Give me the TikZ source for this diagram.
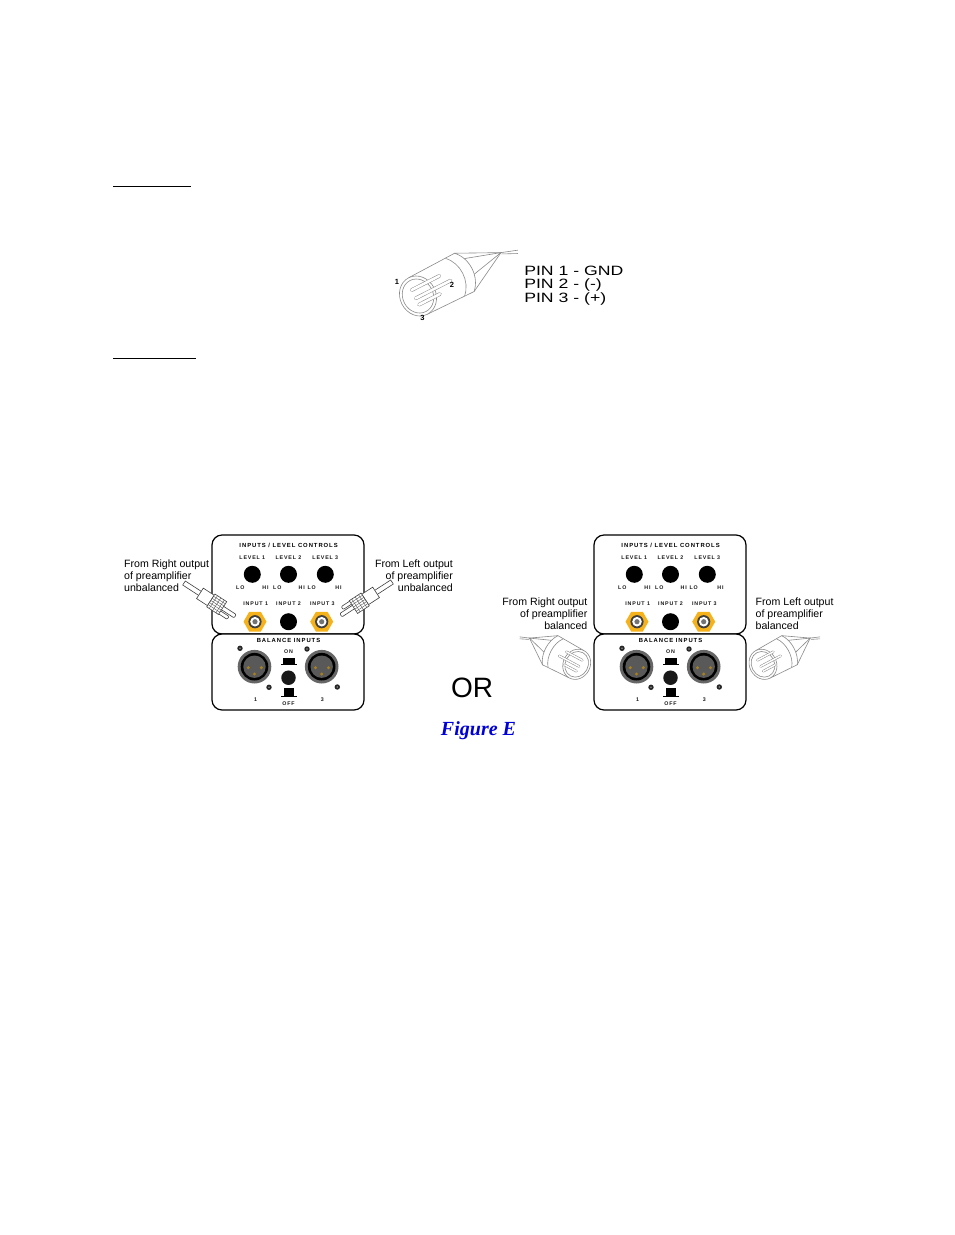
\documentclass[tikz,border=0pt]{standalone}
\usepackage{fontspec}
\setmainfont{Liberation Sans}
\newfontfamily\panelfont[LetterSpace=16]{Liberation Sans}
\newfontfamily\figfont{Liberation Serif}
\usetikzlibrary{shapes.geometric}
\definecolor{goldrca}{HTML}{F6B21B}
\definecolor{pingold}{HTML}{A8801E}
\definecolor{plugline}{HTML}{8A8A8A}
\tikzset{
  tiny label/.style={font=\panelfont\bfseries\fontsize{5.3}{6}\selectfont,inner sep=0pt,text=black!90},
  title label/.style={font=\panelfont\bfseries\fontsize{5.9}{6}\selectfont,inner sep=0pt,text=black},
  knob/.style={circle,fill=black,minimum size=17pt,inner sep=0pt},
  hexnut/.style={regular polygon,regular polygon sides=6,fill=goldrca,minimum size=23pt,inner sep=0pt},
  caption/.style={font=\fontsize{10.6}{12}\selectfont,inner sep=0pt,text=black},
  pinlist/.style={font=\fontsize{13.5}{14}\selectfont,inner sep=0pt,anchor=base west,xscale=1.31,transform shape},
  plug/.style={draw=plugline,line width=.6pt},
  rcaline/.style={draw=black!75,line width=.6pt,fill=white},
}
% x, y, rotation, yflip, L, R, face rx
\newcommand{\xlrplug}[7]{%
  \begin{scope}[shift={(#1,#2)},rotate=#3,yscale=#4]
    \draw[plug] (0,-#6) -- (#5,-#6-1) .. controls (#5*1.22,-#6*.5) and (#5*1.22,#6*.5) .. (#5,#6+1) -- (0,#6);
    \draw[plug] (#5*.8,-#6-.5) .. controls (#5*1.02,-#6*.5) and (#5*1.02,#6*.5) .. (#5*.8,#6+.5);
    \draw[plug] (#5,-#6-1) -- (#5*1.8,-1) -- (#5,#6+1);
    \draw[plug] (#5*1.12,-#6*.6) -- (#5*1.8,-1) -- (#5*1.15,#6*.3);
    \draw[plug] (#5*1.8,-1) -- (#5*2.11,#5*.086);
    \draw[plug] (#5*1.8,.5) -- (#5*2.08,#5*.143);
    \draw[plug,fill=white] (0,0) ellipse[x radius=#7,y radius=#6];
    \draw[plug] (0,0) ellipse[x radius=#7*.85,y radius=#6*.85];
    \foreach \py/\pl in {-8/.6,1/.75,8/.45}{
      \draw[plugline,line width=1+2.6*#5/51,line cap=round] (-3,\py*#6/20) -- (-3+#5*\pl,\py*#6/20);
      \draw[white,line width=2.6*#5/51,line cap=round] (-3,\py*#6/20) -- (-3+#5*\pl,\py*#6/20);
    }
  \end{scope}}
% x, y, rotation
\newcommand{\rcaplug}[3]{%
  \begin{scope}[shift={(#1,#2)},rotate=#3]
    \draw[rcaline] (0,-2.4) rectangle (20,2.4);
    \draw[rcaline,rounded corners=1pt] (46,-2) -- (61,-2) -- (61,2) -- (46,2);
    \draw[rcaline,rounded corners=1pt] (46,3.5) -- (56,3.5) -- (56,7) -- (46,7);
    \draw[rcaline] (19,-6.2) rectangle (32,6.2);
    \draw[rcaline] (32,-7.6) rectangle (46,7.6);
    \foreach \q in {-5,-2.5,0,2.5,5}{\draw[black!65,line width=.4pt] (32,\q) -- (46,\q);}
    \foreach \q in {35,39,43}{\draw[black!65,line width=.4pt] (\q,-7.6) -- (\q,7.6);}
  \end{scope}}
% x, name
\newcommand{\controlpanel}[2]{%
  \begin{scope}[shift={(#1,0)}]
    \node[draw=black,line width=1.2pt,rounded corners=10pt,fill=white,minimum width=152pt,minimum height=99pt,inner sep=0pt] (#2top) at (288,584.5) {};
    \node[draw=black,line width=1.2pt,rounded corners=10pt,fill=white,minimum width=152pt,minimum height=76pt,inner sep=0pt] (#2bot) at (288,672) {};
    \node[title label] (#2title) at (288.6,545.5) {INPUTS / LEVEL CONTROLS};
    \foreach \n/\kx/\lox/\hix in {1/252.3/240.3/265.5,2/288.5/277.3/301.7,3/325.3/311.7/338.5}{
      \node[tiny label] (#2lev\n) at (\kx,557.7) {LEVEL \n};
      \node[knob] (#2knob\n) at (\kx,574.3) {};
      \node[tiny label] (#2lo\n) at (\lox,587.5) {LO};
      \node[tiny label] (#2hi\n) at (\hix,587.5) {HI};
    }
    \node[tiny label] (#2in1) at (255.7,603.4) {INPUT 1};
    \node[tiny label] (#2in2) at (288.5,603.4) {INPUT 2};
    \node[tiny label] (#2in3) at (322.3,603.4) {INPUT 3};
    \foreach \n/\hx in {1/255,3/321.7}{
      \node[hexnut] (#2hex\n) at (\hx,621.7) {};
      \fill[black!75] (\hx,621.7) circle[radius=6.6];
      \fill[white] (\hx,621.7) circle[radius=4.8];
      \fill[black!55] (\hx,621.7) circle[radius=2.6];
    }
    \node[knob] (#2knob4) at (288.5,621.7) {};
    \node[title label] (#2bal) at (288.5,640) {BALANCE INPUTS};
    \foreach \n/\sx in {1/254.5,2/321.7}{
      \fill[black!60] (\sx,666.7) circle[radius=16.8];
      \fill[black] (\sx,666.7) circle[radius=13.8];
      \fill[black!65] (\sx,666.7) circle[radius=11.2];
      \foreach \ox/\oy in {-6.2/1,6.8/1,0/7.3}{
        \fill[pingold] (\sx+\ox,666.7+\oy) circle[radius=1.7];
      }
    }
    \foreach \cx/\cy in {240/648.3,269/687.3,307/649,337.3/687}{
      \fill[black!85] (\cx,\cy) circle[radius=2.7];
      \fill[black!45] (\cx,\cy) circle[radius=.9];
    }
    \node[circle,fill=black!90,minimum size=14.5pt,inner sep=0pt] (#2sw) at (288.5,677.7) {};
    \node[tiny label] (#2on) at (288.5,651.7) {ON};
    \fill[black] (283.3,658.3) rectangle (295,663.5);
    \draw[black,line width=.9pt] (281,664) -- (297,664);
    \fill[black] (284,687.7) rectangle (294.3,696.3);
    \draw[black,line width=.9pt] (281,696.6) -- (297,696.6);
    \node[tiny label] (#2off) at (288.5,703.3) {OFF};
    \node[tiny label] (#2n1) at (255.7,699.7) {1};
    \node[tiny label] (#2n3) at (322.3,699.7) {3};
  \end{scope}}
\begin{document}
\begin{tikzpicture}[x=1pt,y=-1pt]
\fill[white] (0,0) rectangle (954,1235);
\useasboundingbox (0,0) rectangle (954,1235);
% section rules
\coordinate (ruleAa) at (113,186); \coordinate (ruleAb) at (190.5,186);
\coordinate (ruleBa) at (113,358); \coordinate (ruleBb) at (195.5,358);
\draw[black,line width=.8pt] (ruleAa) -- (ruleAb);
\draw[black,line width=.8pt] (ruleBa) -- (ruleBb);
% large plug
\xlrplug{418}{296}{27}{1}{52}{20.5}{18}
\node[inner sep=0pt,font=\bfseries\fontsize{7.5}{8}\selectfont] (pa) at (397,282) {1};
\node[inner sep=0pt,font=\bfseries\fontsize{7.5}{8}\selectfont] (pb) at (452,285) {2};
\node[inner sep=0pt,font=\bfseries\fontsize{7.5}{8}\selectfont] (pc) at (422.5,318) {3};
\node[pinlist] (pin1) at (524,275) {PIN 1 - GND};
\node[pinlist] (pin2) at (524,288.5) {PIN 2 - (-)};
\node[pinlist] (pin3) at (524,302) {PIN 3 - (+)};
% panels
\controlpanel{0}{L}
\controlpanel{382}{R}
% RCA plugs
\rcaplug{184}{583}{-33}
\rcaplug{392}{582}{-147}
% small plugs
\xlrplug{576.7}{664.3}{152}{-1}{30}{15.5}{13.5}
\xlrplug{763}{664.3}{28}{1}{30}{15.5}{13.5}
% captions
\node[caption,anchor=base west] (c1) at (124,567) {From Right output};
\node[caption,anchor=base west] (c2) at (124,579) {of preamplifier};
\node[caption,anchor=base west] (c3) at (124,591) {unbalanced};
\node[caption,anchor=base east] (c4) at (453,567) {From Left output};
\node[caption,anchor=base east] (c5) at (453,579) {of preamplifier};
\node[caption,anchor=base east] (c6) at (453,591) {unbalanced};
\node[caption,anchor=base east] (c7) at (587.5,605) {From Right output};
\node[caption,anchor=base east] (c8) at (587.5,617) {of preamplifier};
\node[caption,anchor=base east] (c9) at (587.5,629) {balanced};
\node[caption,anchor=base west] (c10) at (755.5,605) {From Left output};
\node[caption,anchor=base west] (c11) at (755.5,617) {of preamplifier};
\node[caption,anchor=base west] (c12) at (755.5,629) {balanced};
% OR and figure title
\node[inner sep=0pt,font=\fontsize{28}{30}\selectfont] (or) at (472,688) {OR};
\node[inner sep=0pt,text=blue!85!black,font=\figfont\fontsize{20}{24}\selectfont\bfseries\itshape] (figE) at (478.5,731) {Figure E};
\end{tikzpicture}
\end{document}
